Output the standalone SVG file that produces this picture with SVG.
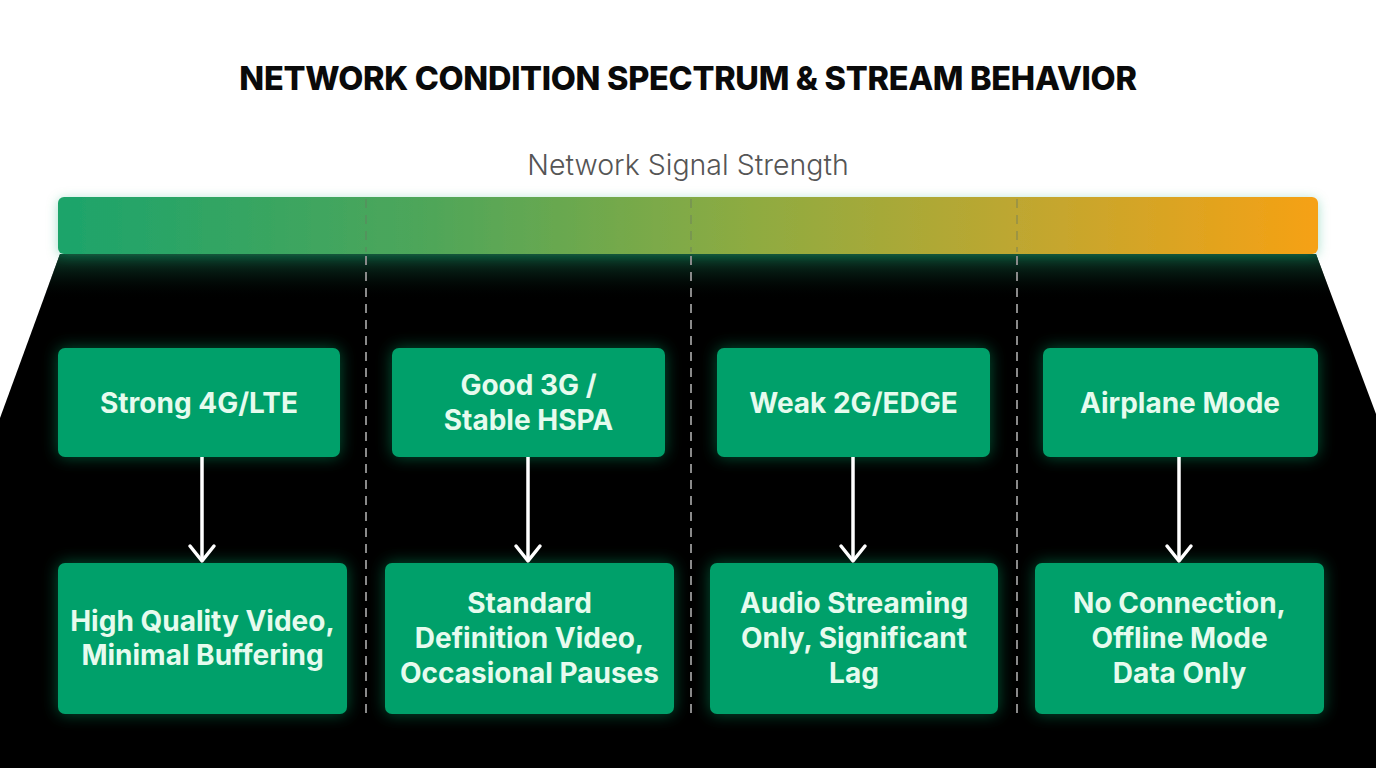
<svg xmlns="http://www.w3.org/2000/svg" width="1376" height="768" viewBox="0 0 1376 768">
<defs>
<linearGradient id="barGrad" x1="0" y1="0" x2="1" y2="0">
<stop offset="0" stop-color="#1ca46b"/>
<stop offset="0.3" stop-color="#50a659"/>
<stop offset="0.55" stop-color="#8eab41"/>
<stop offset="0.8" stop-color="#c7a62d"/>
<stop offset="1" stop-color="#f6a114"/>
</linearGradient>
<linearGradient id="shade" x1="0" y1="0" x2="0" y2="1">
<stop offset="0" stop-color="#0f4a33" stop-opacity="0.9"/>
<stop offset="1" stop-color="#000" stop-opacity="0"/>
</linearGradient>
<filter id="glow" x="-20%" y="-30%" width="140%" height="160%">
<feDropShadow dx="0" dy="0" stdDeviation="8" flood-color="#0fbf77" flood-opacity="0.45"/>
</filter>
<filter id="barGlow" x="-5%" y="-50%" width="110%" height="200%">
<feDropShadow dx="0" dy="2" stdDeviation="6" flood-color="#1aa36a" flood-opacity="0.35"/>
</filter>
</defs>
<style>
.title{font-family:Inter,"Liberation Sans",sans-serif;font-weight:800;font-size:32.5px;fill:#0a0a0a;text-anchor:middle;letter-spacing:-0.3px}
.sub{font-family:Inter,"Liberation Sans",sans-serif;font-weight:300;font-size:28.5px;fill:#555;text-anchor:middle}
.box{fill:#02a06a;filter:url(#glow)}
.lbl{font-family:Inter,"Liberation Sans",sans-serif;font-weight:700;font-size:28px;fill:#e6fbee;text-anchor:middle}
.dash{stroke:#8a8a8a;stroke-width:2;stroke-dasharray:9 7}
.dashIn{stroke:#6a7a60;stroke-width:1.5;stroke-dasharray:9 7;opacity:0.5}
.arrow{stroke:#ffffff;stroke-width:3.5;fill:none}
.head{stroke:#ffffff;stroke-width:3.5;fill:none;stroke-linecap:round;stroke-linejoin:round}
</style>
<rect width="1376" height="768" fill="#ffffff"/>
<polygon points="60,254 1316,254 1376,414 1376,768 0,768 0,418" fill="#000000"/>
<polygon points="60,254 1316,254 1333,300 43,300" fill="url(#shade)"/>
<text class="title" x="688" y="90">NETWORK CONDITION SPECTRUM &amp; STREAM BEHAVIOR</text>
<text class="sub" x="688" y="175">Network Signal Strength</text>
<g id="bar">
<rect x="58" y="197" width="1260" height="57" rx="6" fill="url(#barGrad)" filter="url(#barGlow)"/>
</g>
<g id="dividers">
<line class="dashIn" x1="366" y1="199" x2="366" y2="252"/>
<line class="dashIn" x1="691" y1="199" x2="691" y2="252"/>
<line class="dashIn" x1="1017" y1="199" x2="1017" y2="252"/>
<line class="dash" x1="366" y1="256" x2="366" y2="714"/>
<line class="dash" x1="691" y1="256" x2="691" y2="714"/>
<line class="dash" x1="1017" y1="256" x2="1017" y2="714"/>
</g>
<g id="n1">
<rect class="box" x="58" y="348" width="282" height="109" rx="7"/>
<text class="lbl" x="199" y="413">Strong 4G/LTE</text>
</g>
<g id="n2">
<rect class="box" x="392" y="348" width="273" height="109" rx="7"/>
<text class="lbl" x="528.5" y="395">Good 3G /</text>
<text class="lbl" x="528.5" y="430">Stable HSPA</text>
</g>
<g id="n3">
<rect class="box" x="717" y="348" width="273" height="109" rx="7"/>
<text class="lbl" x="853.5" y="413">Weak 2G/EDGE</text>
</g>
<g id="n4">
<rect class="box" x="1043" y="348" width="275" height="109" rx="7"/>
<text class="lbl" x="1180" y="413">Airplane Mode</text>
</g>
<g id="r1">
<rect class="box" x="58" y="563" width="289" height="151" rx="7"/>
<text class="lbl" x="202.5" y="631">High Quality Video,</text>
<text class="lbl" x="202.5" y="665">Minimal Buffering</text>
</g>
<g id="r2">
<rect class="box" x="385" y="563" width="289" height="151" rx="7"/>
<text class="lbl" x="529.5" y="613">Standard</text>
<text class="lbl" x="529.5" y="648">Definition Video,</text>
<text class="lbl" x="529.5" y="683">Occasional Pauses</text>
</g>
<g id="r3">
<rect class="box" x="710" y="563" width="288" height="151" rx="7"/>
<text class="lbl" x="854" y="613">Audio Streaming</text>
<text class="lbl" x="854" y="648">Only, Significant</text>
<text class="lbl" x="854" y="683">Lag</text>
</g>
<g id="r4">
<rect class="box" x="1035" y="563" width="289" height="151" rx="7"/>
<text class="lbl" x="1179.5" y="613">No Connection,</text>
<text class="lbl" x="1179.5" y="648">Offline Mode</text>
<text class="lbl" x="1179.5" y="683">Data Only</text>
</g>
<g id="connectors">
<line class="arrow" x1="202" y1="457" x2="202" y2="559"/>
<path class="head" d="M190,546 L202,561 L214,546"/>
<line class="arrow" x1="528" y1="457" x2="528" y2="559"/>
<path class="head" d="M516,546 L528,561 L540,546"/>
<line class="arrow" x1="853" y1="457" x2="853" y2="559"/>
<path class="head" d="M841,546 L853,561 L865,546"/>
<line class="arrow" x1="1179" y1="457" x2="1179" y2="559"/>
<path class="head" d="M1167,546 L1179,561 L1191,546"/>
</g>
</svg>
